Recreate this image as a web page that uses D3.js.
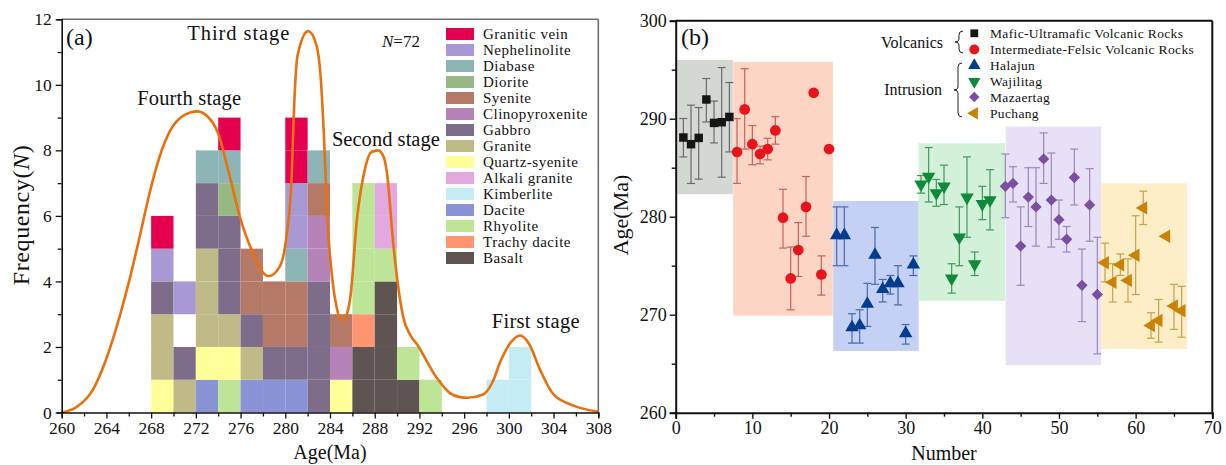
<!DOCTYPE html>
<html><head><meta charset="utf-8">
<script src="https://cdn.jsdelivr.net/npm/d3@7"></script>
<style>
body{margin:0;background:#fff;}
text{font-family:"Liberation Serif","Times New Roman",serif;fill:#111;}
</style>
</head><body>
<svg id="c" width="1226" height="465"></svg>
<script>
// ---------- DATA: panel (a) ----------
const rockTypes = ["Granitic vein","Nephelinolite","Diabase","Diorite","Syenite","Clinopyroxenite","Gabbro","Granite","Quartz-syenite","Alkali granite","Kimberlite","Dacite","Rhyolite","Trachy dacite","Basalt"];
const rockColors = ["#e5004f","#a899d4","#8db5b5","#97b884","#b57a67","#b583b8","#7e6d8a","#c0ba88","#ffff99","#e2a8e0","#c5ebf5","#8a93d6","#bde497","#ff9470","#5e5553"];
const binStarts = [268,270,272,274,276,278,280,282,284,286,288,290,292,298,300];
// rock type of each unit cell, bottom to top (null = empty cell)
const binStacks = [
  ["Quartz-syenite","Granite","Granite","Gabbro","Nephelinolite","Granitic vein"],
  ["Granite","Gabbro",null,"Nephelinolite"],
  ["Dacite","Quartz-syenite","Granite","Granite","Granite","Gabbro","Gabbro","Diabase"],
  ["Rhyolite","Quartz-syenite","Granite","Gabbro","Gabbro","Gabbro","Diorite","Diabase","Granitic vein"],
  ["Dacite","Granite","Gabbro","Syenite","Syenite"],
  ["Dacite","Gabbro","Syenite","Syenite"],
  ["Dacite","Gabbro","Syenite","Syenite","Diabase","Nephelinolite","Nephelinolite","Granitic vein","Granitic vein"],
  ["Gabbro","Gabbro","Gabbro","Gabbro","Clinopyroxenite","Clinopyroxenite","Syenite","Diabase"],
  ["Quartz-syenite","Clinopyroxenite","Syenite"],
  ["Basalt","Basalt","Trachy dacite","Rhyolite","Rhyolite","Rhyolite","Rhyolite"],
  ["Basalt","Basalt","Basalt","Basalt","Rhyolite","Alkali granite","Alkali granite"],
  ["Basalt","Rhyolite"],
  ["Rhyolite"],
  ["Kimberlite"],
  ["Kimberlite","Kimberlite"]
];
const curveAges  = [260,261.3,262.8,264.0,265.2,266.1,267.0,267.9,268.8,269.7,271.0,272.1,273.0,274.0,275.05,275.95,277.0,278.5,279.5,280.1,280.57,280.75,281.1,282.05,282.8,283.15,283.45,283.75,284.2,284.6,285.05,285.5,285.85,286.4,287.1,287.7,288.3,288.8,289.1,289.66,290.55,291.2,291.75,293.5,294.7,295.6,296.3,297.7,298.5,299.3,300.2,301.0,301.8,302.8,304.0,305.8,308];
const curveFreqs = [0,0.16,0.7,1.65,2.95,4.1,5.4,6.75,7.85,8.6,9.08,9.19,9.05,8.51,7.18,5.96,4.95,4.16,4.45,5.36,7.18,9.0,10.9,11.64,11.2,10.3,8.5,6.0,4.1,3.2,2.81,3.0,3.6,5.86,7.39,7.95,8.0,7.8,7.3,5.15,2.91,2.35,2.1,1.08,0.6,0.47,0.45,0.55,0.9,1.6,2.15,2.35,2.1,1.3,0.55,0.21,0.02];
const ageTicksA = [260,264,268,272,276,280,284,288,292,296,300,304,308];
const freqTicksA = [0,2,4,6,8,10,12];
const stageNames = ["Fourth stage","Third stage","Second stage","First stage"];

// ---------- DATA: panel (b) ----------
const groupNames = ["Mafic-Ultramafic Volcanic Rocks","Intermediate-Felsic Volcanic Rocks","Halajun","Wajilitag","Mazaertag","Puchang"];
// [Number, age, lower bound, upper bound]
const maficPts = [[1,288.08,286.1,290.02],[2,287.4,283.39,291.38],[3,288.04,283.83,291.14],[4,291.96,289.67,294.1],[5,289.57,287.53,291.8],[6,289.64,284.03,295.22],[7,290.18,286.61,293.69]];
const felsicPts = [[8,286.6,283.4,290.0],[9,290.95,286.9,295.1],[10,287.4,285.3,289.3],[11,286.4,285.4,287.2],[12,286.9,285.8,288.0],[13,288.8,287.4,290.2],[14,279.9,276.8,282.8],[15,273.7,270.5,276.9],[16,276.6,273.9,279.4],[17,281.0,278.0,284.1],[18,292.65,292.4,292.9],[19,274.1,272.0,276.0],[20,286.9,null,null]];
const halajunPts = [[21,278.1,275.0,281.0],[22,278.1,275.0,281.0],[23,268.7,267.1,270.1],[24,268.9,267.1,270.5],[25,271.1,268.8,273.2],[26,276.1,273.1,278.9],[27,272.6,271.3,273.6],[28,273.2,272.1,274.0],[29,273.2,271.0,275.0],[30,268.1,267.0,269.0],[31,275.1,274.0,276.0]];
const wajilitagPts = [[32,283.3,282.4,284.2],[33,284.1,281.5,287.06],[34,282.4,281.07,283.8],[35,283.1,281.24,285.26],[36,273.7,272.2,275.2],[37,277.9,275.0,281.0],[38,281.96,277.9,286.1],[39,275.15,274.0,276.4],[40,281.3,279.7,283.1],[41,281.7,278.65,284.8]];
const mazaertagPts = [[43,283.1,279.9,286.4],[44,283.4,281.5,285.1],[45,277.0,273.0,281.0],[46,282.0,279.0,285.0],[47,281.0,277.0,285.0],[48,285.9,283.4,288.55],[49,281.7,276.9,286.5],[50,279.7,277.7,281.7],[51,277.7,276.4,279.0],[52,284.0,281.2,286.9],[53,273.0,269.3,276.7],[54,281.2,277.5,284.9],[55,272.06,266.0,277.9]];
const puchangPts = [[56,275.3,273.35,277.3],[57,273.3,271.3,275.2],[58,275.1,274.0,276.2],[59,273.5,271.3,275.7],[60,276.07,272.06,280.1],[61,280.9,279.2,282.6],[62,268.9,267.6,270.2],[63,269.4,267.2,271.55],[64,278.0,null,null],[65,270.9,268.5,273.1],[66,270.4,267.7,272.9]];
// shaded ranges: [Number from, Number to, age from, age to]
const groupBoxes = [[0.2,7.45,282.3,296.0],[7.5,20.5,269.9,295.8],[20.55,31.7,266.3,281.6],[31.7,43.0,271.4,287.5],[43.05,55.5,264.85,289.2],[55.5,66.7,266.5,283.4]];
const numberTicks = [0,10,20,30,40,50,60,70];
const ageTicksB = [260,270,280,290,300];

// ---------- STYLE ----------
const boxColors = ["#d4d8d3","#fcd5c4","#c4d0f4","#d3f0d8","#e8e0f7","#fdeec7"];
const markColors = ["#161616","#e8141b","#003d91","#0d8a3a","#7a4fa1","#c98106"];
const errColors = ["#6a6a6a","#c6625c","#4b6aa8","#3d9a5b","#9d86bb","#c9a04a"];
const symbols = [
  {t:d3.symbolSquare,s:72,r:0},{t:d3.symbolCircle,s:90,r:0},{t:d3.symbolTriangle,s:78,r:0},
  {t:d3.symbolTriangle,s:78,r:180},{t:d3.symbolSquare,s:64,r:45},{t:d3.symbolTriangle,s:78,r:-90}];

const svg = d3.select("#c");

// ================= PANEL A =================
const xA = d3.scaleLinear().domain([260,308]).range([61.7,598.3]);
const yA = d3.scaleLinear().domain([0,12]).range([412.5,19.3]);
const gA = svg.append("g");

binStarts.forEach((b,i)=>{
  binStacks[i].forEach((t,j)=>{
    if(t===null) return;
    gA.append("rect")
      .attr("x",xA(b)).attr("width",xA(b+2)-xA(b))
      .attr("y",yA(j+1)).attr("height",yA(j)-yA(j+1))
      .attr("fill",rockColors[rockTypes.indexOf(t)]);
  });
});

const lineA = d3.line().x(d=>xA(d[0])).y(d=>yA(d[1])).curve(d3.curveMonotoneX);
gA.append("path").datum(curveAges.map((a,i)=>[a,curveFreqs[i]]))
  .attr("d",lineA).attr("fill","none").attr("stroke","#e8700e").attr("stroke-width",2.6);

// frame
gA.append("line").attr("x1",xA(260)).attr("x2",xA(308)).attr("y1",yA(12)).attr("y2",yA(12)).attr("stroke","#6e6e6e").attr("stroke-width",1.6);
gA.append("line").attr("x1",xA(308)).attr("x2",xA(308)).attr("y1",yA(12)).attr("y2",yA(0)).attr("stroke","#6e6e6e").attr("stroke-width",1.6);

// axes
const axXA = d3.axisBottom(xA).tickValues(d3.range(260,309,2)).tickSize(5).tickFormat(d=>ageTicksA.includes(d)?d:"");
const gxA = gA.append("g").attr("transform",`translate(0,${yA(0)})`).call(axXA);
gxA.selectAll(".tick line").attr("y2",d=>ageTicksA.includes(d)?6:4);
const axYA = d3.axisLeft(yA).tickValues(d3.range(0,13,1)).tickSize(5).tickFormat(d=>freqTicksA.includes(d)?d:"");
const gyA = gA.append("g").attr("transform",`translate(${xA(260)},0)`).call(axYA);
gyA.selectAll(".tick line").attr("x2",d=>freqTicksA.includes(d)?-6:-4);
[gxA,gyA].forEach(g=>{
  g.select(".domain").attr("stroke","#111").attr("stroke-width",1.6);
  g.selectAll(".tick line").attr("stroke","#111").attr("stroke-width",1.3);
  g.selectAll(".tick text").attr("font-family","Liberation Serif").attr("font-size",17.5).attr("fill","#111");
});
gxA.selectAll(".tick text").attr("y",9);
gyA.selectAll(".tick text").attr("x",-10);

// titles
gA.append("text").attr("x",330).attr("y",459).attr("text-anchor","middle").attr("font-size",20).text("Age(Ma)");
const ftA = gA.append("text").attr("transform","translate(29,215) rotate(-90)").attr("text-anchor","middle").attr("font-size",24).attr("letter-spacing",0.6);
ftA.append("tspan").text("Frequency(");
ftA.append("tspan").attr("font-style","italic").text("N");
ftA.append("tspan").text(")");
gA.append("text").attr("x",66).attr("y",45).attr("font-size",24).text("(a)");
const nt = gA.append("text").attr("x",382).attr("y",47).attr("font-size",17);
nt.append("tspan").attr("font-style","italic").text("N");
nt.append("tspan").text("=72");

// stage labels
const stagePos = [[271.4,9.38],[275.8,11.37],[289.0,8.13],[302.4,2.58]];
const stageWidths = [104,102,108,88];
stageNames.forEach((s,i)=>{
  gA.append("text").attr("x",xA(stagePos[i][0])).attr("y",yA(stagePos[i][1]))
    .attr("text-anchor","middle").attr("font-size",20.5)
    .attr("textLength",stageWidths[i]).attr("lengthAdjust","spacing").text(s);
});

// legend A
const legA = gA.append("g");
rockTypes.forEach((t,i)=>{
  const cy = 34 + i*16;
  legA.append("rect").attr("x",446).attr("y",cy-6).attr("width",28).attr("height",12).attr("fill",rockColors[i]);
  legA.append("text").attr("x",483).attr("y",cy+5).attr("font-size",15).attr("letter-spacing",0.5).text(t);
});

// ================= PANEL B =================
const xB = d3.scaleLinear().domain([0,70]).range([675.7,1212.3]);
const yB = d3.scaleLinear().domain([260,300]).range([412.7,20.7]);
const gB = svg.append("g");

groupBoxes.forEach((b,i)=>{
  gB.append("rect").attr("x",xB(b[0])).attr("width",xB(b[1])-xB(b[0]))
    .attr("y",yB(b[3])).attr("height",yB(b[2])-yB(b[3])).attr("fill",boxColors[i]);
});

const allGroups = [maficPts,felsicPts,halajunPts,wajilitagPts,mazaertagPts,puchangPts];
allGroups.forEach((pts,gi)=>{
  const g = gB.append("g");
  pts.forEach(p=>{
    if(p[2]===null) return;
    const x = xB(p[0]);
    g.append("line").attr("x1",x).attr("x2",x).attr("y1",yB(p[2])).attr("y2",yB(p[3])).attr("stroke",errColors[gi]).attr("stroke-width",1.2);
    [p[2],p[3]].forEach(v=>g.append("line").attr("x1",x-4).attr("x2",x+4).attr("y1",yB(v)).attr("y2",yB(v)).attr("stroke",errColors[gi]).attr("stroke-width",1.2));
  });
  const sym = d3.symbol().type(symbols[gi].t).size(symbols[gi].s);
  pts.forEach(p=>{
    g.append("path").attr("d",sym())
      .attr("transform",`translate(${xB(p[0])},${yB(p[1])}) rotate(${symbols[gi].r})`)
      .attr("fill",markColors[gi]);
  });
});

// frame
gB.append("line").attr("x1",xB(0)).attr("x2",xB(70)).attr("y1",yB(300)).attr("y2",yB(300)).attr("stroke","#111").attr("stroke-width",2);
gB.append("line").attr("x1",xB(70)).attr("x2",xB(70)).attr("y1",yB(300)).attr("y2",yB(260)).attr("stroke","#111").attr("stroke-width",2);

const axXB = d3.axisBottom(xB).tickValues(d3.range(0,71,5)).tickSize(6).tickFormat(d=>numberTicks.includes(d)?d:"");
const gxB = gB.append("g").attr("transform",`translate(0,${yB(260)})`).call(axXB);
gxB.selectAll(".tick line").attr("y2",d=>numberTicks.includes(d)?6:4);
const axYB = d3.axisLeft(yB).tickValues(d3.range(260,301,5)).tickSize(6).tickFormat(d=>ageTicksB.includes(d)?d:"");
const gyB = gB.append("g").attr("transform",`translate(${xB(0)},0)`).call(axYB);
gyB.selectAll(".tick line").attr("x2",d=>ageTicksB.includes(d)?-6:-4);
[gxB,gyB].forEach(g=>{
  g.select(".domain").attr("stroke","#111").attr("stroke-width",2);
  g.selectAll(".tick line").attr("stroke","#111").attr("stroke-width",1.4);
  g.selectAll(".tick text").attr("font-family","Liberation Serif").attr("font-size",18).attr("fill","#111");
});
gxB.selectAll(".tick text").attr("y",9);
gyB.selectAll(".tick text").attr("x",-9);

gB.append("text").attr("x",944).attr("y",460).attr("text-anchor","middle").attr("font-size",20).text("Number");
gB.append("text").attr("transform","translate(628,215) rotate(-90)").attr("text-anchor","middle").attr("font-size",22).text("Age(Ma)");
gB.append("text").attr("x",681).attr("y",45).attr("font-size",24).text("(b)");

// legend B
const legB = gB.append("g");
const legRows = [33.3,49.5,65.5,81.5,97,113.3];
groupNames.forEach((n,i)=>{
  const sym = d3.symbol().type(symbols[i].t).size(symbols[i].s*0.85);
  legB.append("path").attr("d",sym()).attr("transform",`translate(974.3,${legRows[i]}) rotate(${symbols[i].r})`).attr("fill",markColors[i]);
  legB.append("text").attr("x",990).attr("y",legRows[i]+4.5).attr("font-size",13.5).attr("letter-spacing",0.35).text(n);
});
legB.append("text").attr("x",943).attr("y",48).attr("text-anchor","end").attr("font-size",16).text("Volcanics");
legB.append("text").attr("x",942).attr("y",95).attr("text-anchor","end").attr("font-size",16).text("Intrusion");
function brace(x,y0,y1){
  const m=(y0+y1)/2, p=d3.path();
  p.moveTo(x+5,y0); p.quadraticCurveTo(x+1,y0,x+1,y0+4); p.lineTo(x+1,m-3);
  p.quadraticCurveTo(x+1,m,x-3,m); p.quadraticCurveTo(x+1,m,x+1,m+3);
  p.lineTo(x+1,y1-4); p.quadraticCurveTo(x+1,y1,x+5,y1);
  return p.toString();
}
legB.append("path").attr("d",brace(958,31,53)).attr("fill","none").attr("stroke","#222").attr("stroke-width",1);
legB.append("path").attr("d",brace(957,63,117)).attr("fill","none").attr("stroke","#222").attr("stroke-width",1);
</script>
</body></html>
